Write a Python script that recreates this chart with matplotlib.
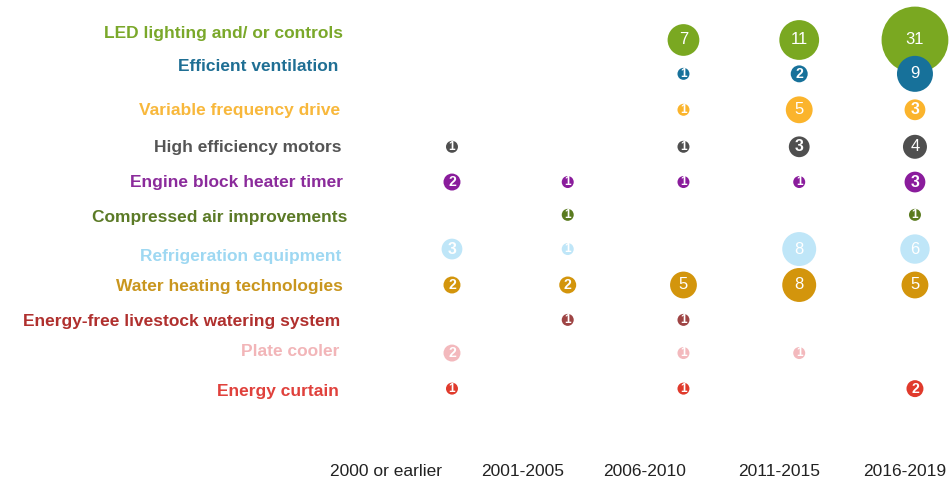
import matplotlib.pyplot as plt
import numpy as np

# periodos (colunas) e tecnologias (linhas)
periodos = ["2000 or earlier", "2001-2005", "2006-2010", "2011-2015", "2016-2019"]
tecnologias = [
    "LED lighting and/ or controls",
    "Efficient ventilation",
    "Variable frequency drive",
    "High efficiency motors",
    "Engine block heater timer",
    "Compressed air improvements",
    "Refrigeration equipment",
    "Water heating technologies",
    "Energy-free livestock watering system",
    "Plate cooler",
    "Energy curtain",
]

led = [0, 0, 7, 11, 31]
ventilacao = [0, 0, 1, 2, 9]
vfd = [0, 0, 1, 5, 3]
motores = [1, 0, 1, 3, 4]
aquecedor_motor = [2, 1, 1, 1, 3]
ar_comprimido = [0, 1, 0, 0, 1]
refrigeracao = [3, 1, 0, 8, 6]
aquecimento_agua = [2, 2, 5, 8, 5]
bebedouro = [0, 1, 1, 0, 0]
resfriador = [2, 0, 1, 1, 0]
cortina = [1, 0, 1, 0, 2]

valores = [led, ventilacao, vfd, motores, aquecedor_motor, ar_comprimido,
           refrigeracao, aquecimento_agua, bebedouro, resfriador, cortina]

cores = ["#7aa821", "#17719a", "#fbb42c", "#4f4f4f", "#8a1c9c", "#5a7b1f",
         "#bfe6f8", "#d3950c", "#9e4444", "#f3b9bd", "#e03a2c"]
cores_texto = ["#7aa82a", "#1f6f94", "#f8b83c", "#555555", "#8b2b9b", "#5b7a26",
               "#9ed8f2", "#c9961e", "#b0302e", "#f2b5b8", "#e0413c"]

# posicao vertical de cada linha de bolhas e de cada rotulo (layout)
pos_linhas = [0.0, 0.97, 2.0, 3.06, 4.07, 5.01, 5.99, 7.02, 8.02, 8.97, 9.99]
pos_textos = [-0.2, 0.77, 2.01, 3.09, 4.09, 5.1, 6.19, 7.05, 8.08, 8.94, 10.06]
# ajuste horizontal do fim de cada rotulo
fim_rotulos = [-0.942, -0.985, -0.968, -0.951, -0.942, -0.907, -0.959,
               -0.942, -0.968, -0.976, -0.976]

fig = plt.figure(figsize=(9.52, 4.82), dpi=100)
ax = fig.add_axes([0, 0, 1, 1])
ax.set_xlim(-3.905, 4.320)
ax.set_ylim(12.665, -1.146)
ax.axis("off")

for i, (nome, linha) in enumerate(zip(tecnologias, valores)):
    linha = np.array(linha)
    cols = np.nonzero(linha)[0]
    y = pos_linhas[i]
    ax.scatter(cols, [y] * len(cols), s=74.6 * linha[cols], color=cores[i],
               edgecolors="none", zorder=2 + i)
    for c in cols:
        v = linha[c]
        ax.text(c, y, str(v), color="white", ha="center", va="center",
                fontsize=min(12, 4 * np.sqrt(v) + 4.5), zorder=2.5 + i,
                fontweight="bold" if v <= 3 else "normal",
                family="Liberation Sans")
    ax.text(fim_rotulos[i], pos_textos[i], nome, color=cores_texto[i],
            ha="right", va="center", fontsize=12.5, fontweight="bold",
            family="Liberation Sans")

pos_rotulos = [-0.57, -0.39, -0.34, -0.17, -0.09]
for c, (p, dx) in enumerate(zip(periodos, pos_rotulos)):
    ax.text(c + dx, 12.35, p, ha="center", va="center", fontsize=12.5,
            color="#222222", family="Liberation Sans")

plt.savefig("out.png", dpi=100)
